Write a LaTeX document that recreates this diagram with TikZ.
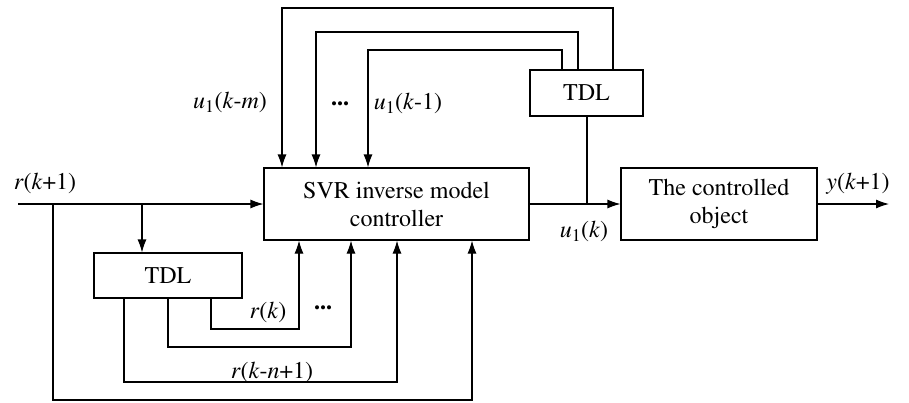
\documentclass[tikz,border=0pt]{standalone}
\usepackage[T1]{fontenc}
\usepackage{mathptmx}
\usetikzlibrary{arrows.meta}

\tikzset{
	block/.style={draw, line width=1.1pt, align=center, inner sep=0pt},
	wire/.style={line width=1.1pt},
	arr/.style={line width=1.1pt, -{Latex[length=13pt,width=9pt]}},
}
\newcommand{\vi}[1]{\textit{#1}}

\begin{document}
\begin{tikzpicture}[x=1pt,y=-1pt,font=\rmfamily\fontsize{24}{28}\selectfont]
	\useasboundingbox (0,0) rectangle (909,402);

	% blocks
	\node[block, minimum width=265pt, minimum height=72pt] (svr) at (396.5,204) {SVR inverse model\\controller};
	\node[block, minimum width=196pt, minimum height=72pt] (plant) at (719,204) {The controlled\\object};
	\node[block, minimum width=113pt, minimum height=46pt] (tdlu) at (586.5,93) {TDL};
	\node[block, minimum width=148pt, minimum height=45pt] (tdlr) at (168,275.5) {TDL};

	% input, output and the tap to the upper TDL
	\coordinate (in) at (18,204);
	\coordinate (out) at (889,204);
	\coordinate (tap) at (587,204);
	\draw[arr] (in) -- (svr.west);
	\draw[arr] (svr.east) -- (plant.west);
	\draw[arr] (plant.east) -- (out);
	\draw[wire] (tdlu.south -| tap) -- (tap);

	% r(k+1) straight into the controller, and into the lower TDL
	\coordinate (b1) at (53,204);
	\coordinate (b2) at (142,204);
	\draw[arr] (b1) |- (472,400) -- (472,0 |- svr.south);
	\draw[arr] (b2) -- (b2 |- tdlr.north);

	% delayed outputs of the upper TDL
	\foreach \a/\h/\b in {613/8/282, 578/32/316, 562/50/368}{
		\draw[arr] (\a,0 |- tdlu.north) |- (\b,\h) -- (\b,0 |- svr.north);
	}

	% delayed references from the lower TDL
	\foreach \a/\h/\b in {211/329/299, 168/347/351, 124/382/397}{
		\draw[arr] (\a,0 |- tdlr.south) |- (\b,\h) -- (\b,0 |- svr.south);
	}

	% labels
	\node (lr1) at (45,184) {\vi{r}(\vi{k}+1)};
	\node (ly1) at (858,184) {\vi{y}(\vi{k}+1)};
	\node (lu) at (584,232) {\vi{u}\textsubscript{1}(\vi{k})};
	\node (lum) at (230,103) {\vi{u}\textsubscript{1}(\vi{k}-\vi{m})};
	\node (ldu) at (340,104) {\textbf{...}};
	\node (lu1) at (408,104) {\vi{u}\textsubscript{1}(\vi{k}-1)};
	\node (lrk) at (268,313) {\vi{r}(\vi{k})};
	\node (ldr) at (323,308) {\textbf{...}};
	\node (lrn) at (272,373) {\vi{r}(\vi{k}-\vi{n}+1)};
\end{tikzpicture}
\end{document}
